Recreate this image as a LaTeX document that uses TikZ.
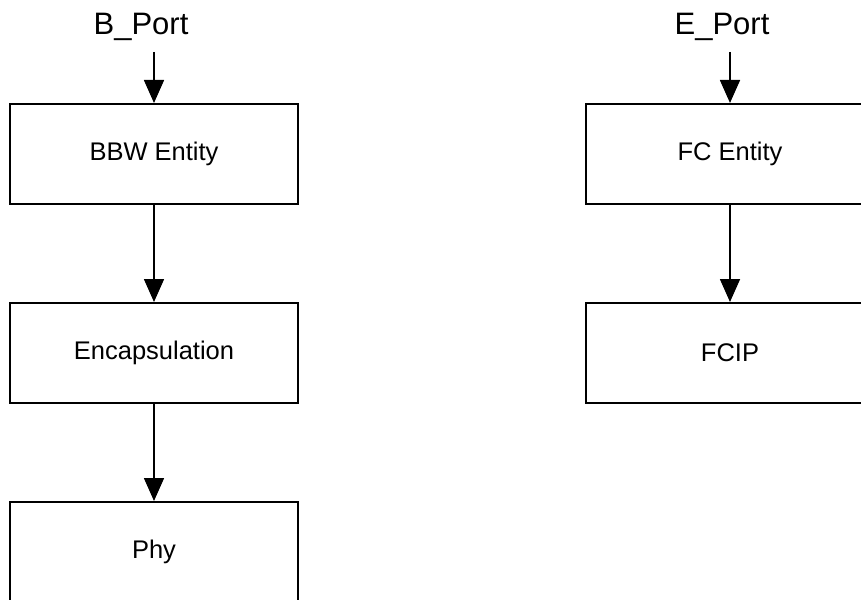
\documentclass[tikz,border=0pt]{standalone}
\usepackage{fontspec}
\setmainfont{Liberation Sans}
\usetikzlibrary{arrows.meta}
\begin{document}
\begin{tikzpicture}[x=1pt,y=-1pt,
  layer/.style={draw=black,line width=2pt,minimum width=288pt,minimum height=100pt,inner sep=0pt,font=\fontsize{25.5}{30}\selectfont,anchor=north},
  port/.style={font=\fontsize{31}{36}\selectfont,inner sep=0pt},
  flow/.style={draw=black,line width=1.6pt,-{Triangle[width=20pt,length=23pt]}}]
\useasboundingbox (0,0) rectangle (861,599);
\clip (0,0) rectangle (861,599);
\node[port] (bport) at (141,27) {B\_Port};
\node[port] (eport) at (722,27) {E\_Port};
\coordinate (bstart) at (154,52);
\coordinate (estart) at (730,52);
\node[layer] (bbw) at (154,103) {BBW Entity};
\node[layer] (enc) at (154,302) {Encapsulation};
\node[layer] (phy) at (154,501) {Phy};
\node[layer] (fc) at (730,103) {FC Entity};
\node[layer] (fcip) at (730,302) {FCIP};
\draw[flow] (bstart) -- (bbw.north);
\draw[flow] (bbw.south) -- (enc.north);
\draw[flow] (enc.south) -- (phy.north);
\draw[flow] (estart) -- (fc.north);
\draw[flow] (fc.south) -- (fcip.north);
\end{tikzpicture}
\end{document}
